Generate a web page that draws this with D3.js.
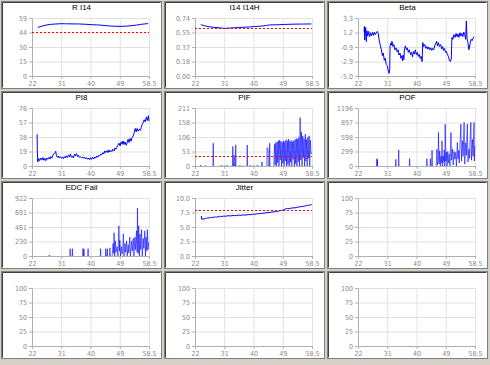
<!DOCTYPE html>
<html lang="en">
<head>
<meta charset="utf-8"/>
<style>
	body {
		margin: 0;
		background-color: #D4D0C8;
	}
	svg { display: block; }
	.tick text {
		font-family: "Liberation Sans Narrow", "DejaVu Sans Condensed", sans-serif;
		font-size: 7px;
		fill: #8a8a8a;
	}
	.title {
		font-family: "Liberation Sans", Arial, sans-serif;
		font-size: 8px;
		fill: #000000;
	}
	.grid line { stroke: #E2E2E2; }
	.grid .domain { display: none; }
	.axis line, .axis .domain { stroke: #B0B0B0; }
</style>
</head>
<body>
<svg id="container" width="490" height="365"></svg>

<script src="https://d3js.org/d3.v7.min.js"></script>
<script>
	// shared x axis
	let xTicks = [22, 31.125, 40.25, 49.375, 58.5]
	let xLabels = ["22", "31", "40", "49", "58.5"]

	let titles = ["R I14", "I14 I14H", "Beta", "PI8", "PIF", "POF", "EDC Fail", "Jitter", "", "", "", ""]
	let yMin = [0, 0, -5, 0, 0, 0, 0, 0, 0, 0, 0, 0]
	let yMax = [59, 0.74, 3.3, 76, 211, 1196, 922, 10, 100, 100, 100, 100]
	let yLabels = [
		["0", "15", "30", "44", "59"],
		["0.00", "0.18", "0.37", "0.55", "0.74"],
		["-5.0", "-2.9", "-0.9", "1.2", "3.3"],
		["0", "19", "38", "57", "76"],
		["0", "53", "106", "158", "211"],
		["0", "299", "598", "897", "1196"],
		["0", "230", "461", "691", "922"],
		["0.0", "2.5", "5.0", "7.5", "10.0"],
		["0", "25", "50", "75", "100"],
		["0", "25", "50", "75", "100"],
		["0", "25", "50", "75", "100"],
		["0", "25", "50", "75", "100"]
	]
	// red dotted limit lines (null = none)
	let limits = [45, 0.61, null, null, 37, null, null, 8, null, null, null, null]

	let rI14X = [23.8,25.0,26.4,27.8,29.4,31.1,32.8,34.8,36.9,38.8,40.6,42.0,43.2,44.8,46.4,48.2,50.1,51.6,53.2,54.6,55.9,57.0,58.2]
	let rI14Y = [49.4,50.6,51.8,52.5,52.9,53.2,53.1,53.0,52.9,52.6,52.2,52.0,51.8,51.3,50.8,50.6,50.5,50.8,51.2,51.8,52.5,52.9,53.3]

	let i14X = [23.8,25.0,26.4,28.0,29.6,31.1,32.7,34.3,35.9,37.5,39.0,40.6,42.0,43.2,44.3,45.3,46.9,48.5,50.0,51.6,53.5,55.9,58.3]
	let i14Y = [0.655,0.64,0.628,0.62,0.615,0.607,0.612,0.615,0.62,0.622,0.625,0.632,0.635,0.638,0.645,0.652,0.653,0.655,0.658,0.66,0.662,0.663,0.664]

	let betaX = [23.9,24.0,24.1,24.4,24.6,24.8,25.0,25.3,25.6,25.9,
		26.2,26.5,26.8,27.1,27.4,27.7,28.0,28.3,28.6,29.0,
		29.3,29.6,29.9,30.2,30.5,30.8,31.1,31.4,31.7,31.9,
		32.0,32.2,32.4,32.6,32.9,33.2,33.5,33.9,34.2,34.5,
		34.8,35.1,35.4,35.7,35.9,36.1,36.3,36.5,36.8,37.1,
		37.4,37.7,38.0,38.4,38.7,39.0,39.3,39.6,39.9,40.2,
		40.5,40.8,41.1,41.4,41.7,42.0,42.2,42.5,42.8,43.2,
		43.5,43.8,44.1,44.4,44.7,45.0,45.3,45.6,45.9,46.2,
		46.5,46.8,47.1,47.4,47.8,48.1,48.4,48.7,49.0,49.3,
		49.6,49.9,50.2,50.5,50.8,51.1,51.3,51.6,51.9,52.3,
		52.6,52.9,53.2,53.5,53.8,54.1,54.4,54.7,55.0,55.3,
		55.6,55.8,56.0,56.3,56.6,57.0,57.3,57.6,57.9,58.2]
	let betaY = [1.33,2.1,0.16,1.94,-0.08,1.47,0.72,1.38,0.63,1.19,
		0.72,1.24,0.82,1.28,0.91,1.19,1.38,1.1,0.16,-0.69,
		-1.25,-2.09,-1.72,-2.75,-2.47,-3.36,-3.5,-4.16,-4.63,-3.97,
		-0.78,-0.31,-0.59,-0.03,-0.78,-0.5,-1.25,-0.97,-1.53,-1.25,
		-2.0,-1.72,-2.47,-2.09,-2.84,-2.0,-2.66,-1.06,-0.69,-1.25,
		-0.97,-1.62,-1.25,-1.95,-1.62,-2.28,-1.48,-1.86,-1.25,-1.95,
		-1.62,-2.19,-1.9,-2.47,-2.19,-2.94,-0.22,-0.78,-0.5,-1.06,
		-0.78,-1.15,-0.87,-1.25,-0.97,-1.34,-1.06,-1.25,-0.69,-0.41,
		-0.03,-0.69,-0.22,-0.78,-0.5,-1.15,-0.78,-1.34,-1.06,-1.62,
		-1.48,-1.95,-2.19,-2.75,-2.94,-2.56,0.53,0.25,0.91,0.53,
		1.1,0.63,1.0,0.53,1.19,0.72,1.1,0.63,1.28,0.91,
		0.25,2.88,0.39,-0.22,-1.25,-0.31,0.25,0.06,0.39,0.63]

	let pi8X = [23.6,23.65,23.8,24.1,24.4,24.7,25.1,25.4,25.7,26.0,
		26.3,26.6,26.9,27.3,27.6,27.9,28.2,28.5,28.8,29.2,
		29.4,29.6,29.9,30.2,30.5,30.8,31.2,31.5,31.8,32.1,
		32.4,32.7,33.0,33.4,33.7,34.0,34.3,34.6,34.9,35.3,
		35.6,35.9,36.2,36.5,36.8,37.1,37.5,37.8,38.1,38.4,
		38.7,39.0,39.4,39.7,40.0,40.3,40.6,40.9,41.3,41.6,
		41.9,42.2,42.5,42.8,43.1,43.5,43.8,44.1,44.4,44.7,
		45.0,45.4,45.7,46.0,46.3,46.6,46.9,47.2,47.6,47.9,
		48.2,48.5,48.8,49.1,49.5,49.8,50.1,50.4,50.7,51.0,
		51.4,51.7,52.0,52.3,52.6,52.9,53.2,53.6,53.9,54.2,
		54.5,54.8,55.1,55.5,55.8,56.1,56.4,56.7,57.0,57.3,
		57.7,58.0,58.3,58.5]
	let pi8Y = [41.7,22,5.3,9.7,7.0,10.5,7.9,11.0,7.5,10.1,
		7.0,10.5,8.8,11.4,9.2,12.3,10.5,14.0,15.8,17.6,
		19.3,14.0,11.4,13.2,10.5,12.3,10.1,11.9,9.7,12.3,
		10.5,13.2,11.0,14.5,11.9,15.8,11.4,13.2,10.5,15.4,
		13.2,16.2,12.3,14.0,11.4,12.3,10.5,11.9,10.1,11.4,
		9.2,11.0,8.8,10.5,8.3,11.0,8.8,11.4,9.2,11.9,
		10.5,13.2,11.4,14.0,13.2,15.8,14.9,17.6,15.8,19.8,
		17.6,20.2,17.6,21.1,18.4,20.2,18.9,22.0,19.8,23.7,
		22.0,24.6,27.2,29.9,26.3,31.6,28.5,32.9,28.1,31.6,
		27.2,30.7,35.1,30.7,36.0,32.5,36.9,39.5,43.9,49.2,
		44.8,49.2,45.7,48.3,46.5,50.5,54.4,57.1,60.6,57.9,
		64.1,59.7,65.9,58.8]

	// spike series: [x, value], a null value breaks the line
	let pifPoints = [
		[23.6,0],[23.8,3],[24.0,0],[24.1,null],[25.0,0],[25.2,2],[25.4,0],[25.5,null],
		[27.6,0],[27.7,83],[27.8,0],[27.9,null],
		[30.0,0],[30.2,3],[30.4,0],[30.5,null],[30.9,0],[31.1,2],[31.3,0],[31.4,null],[31.8,0],[32.0,3],[32.2,0],[32.3,null],
		[33.7,0],[33.8,71],[33.9,0],[34.1,0],[34.2,40],[34.3,0],[34.6,0],[34.7,77],[34.8,0],[34.9,null],
		[35.8,0],[36.0,3],[36.2,0],[36.3,null],[36.8,0],[37.0,2],[37.2,0],[37.3,null],
		[38.2,0],[38.3,76],[38.4,0],[38.5,null],
		[39.1,0],[39.3,3],[39.5,0],[39.6,null],[40.2,0],[40.4,2],[40.6,0],[40.7,null],[41.3,0],[41.5,3],[41.7,0],[41.8,null],
		[42.8,0],[42.9,15],[43.0,0],[43.1,null],
		[44.4,0],[44.5,67],[44.8,61],[44.9,0],[45.2,0],[45.3,83],[45.4,0],[45.5,null],
		[46.6,0],[46.8,79],[47.0,4],[47.2,85],[47.4,0],[47.6,88],[47.8,12],[48.0,92],[48.2,0],[48.4,94],
		[48.6,22],[48.8,90],[49.0,0],[49.2,86],[49.4,10],[49.6,92],[49.8,0],[50.0,88],[50.2,18],[50.4,96],
		[50.6,0],[50.8,92],[51.0,6],[51.2,98],[51.4,0],[51.6,90],[51.8,14],[52.0,94],[52.2,0],[52.4,88],
		[52.6,24],[52.8,92],[53.0,0],[53.2,96],[53.4,8],[53.6,100],[53.8,0],[54.0,98],[54.2,16],[54.4,104],
		[54.6,0],[54.8,176],[55.0,22],[55.2,124],[55.4,0],[55.6,110],[55.8,30],[56.0,100],[56.2,0],[56.4,116],
		[56.6,18],[56.8,96],[57.0,0],[57.2,104],[57.4,28],[57.6,110],[57.8,0],[58.0,94],[58.2,44],[58.4,48]
	]
	let pofPoints = [
		[27.8,0],[27.9,152],[28.0,0],[28.05,130],[28.1,0],[28.2,null],
		[33.7,0],[33.8,138],[33.9,0],[34.0,null],
		[34.6,0],[34.7,332],[34.8,0],[34.9,null],
		[38.0,0],[38.1,152],[38.2,0],[38.3,null],
		[43.4,0],[43.5,152],[43.6,0],[43.7,null],
		[44.5,0],[44.6,152],[44.7,0],[44.8,null],
		[45.0,0],[45.1,325],[45.2,0],[45.3,null],
		[46.4,0],[46.6,345],[46.8,20],[47.0,120],[47.1,691],[47.3,40],[47.5,311],[47.7,0],[47.9,207],[48.1,60],
		[48.2,518],[48.4,0],[48.6,200],[48.8,90],[48.9,332],[49.1,0],[49.2,860],[49.4,100],[49.6,280],[49.8,0],
		[50.0,300],[50.2,60],[50.5,250],[50.7,0],[51.0,691],[51.2,120],[51.5,350],[51.7,20],[52.0,300],[52.2,140],
		[52.5,280],[52.7,0],[53.0,484],[53.2,150],[53.4,320],[53.6,60],[53.8,420],[54.1,864],[54.3,100],[54.6,520],
		[54.8,200],[55.1,898],[55.3,40],[55.6,480],[55.8,220],[56.1,864],[56.3,80],[56.6,350],[56.8,160],[57.0,600],
		[57.2,898],[57.4,120],[57.7,550],[57.9,200],[58.2,898],[58.3,100],[58.4,420]
	]
	let edcPoints = [
		[27.3,0],[27.4,15],[27.5,0],[27.6,null],
		[33.8,0],[33.9,116],[34.0,0],[34.1,null],
		[34.5,0],[34.6,116],[34.7,0],[34.8,null],
		[37.8,0],[37.9,116],[38.0,0],[38.1,0],[38.2,116],[38.3,0],[38.4,null],
		[39.4,0],[39.5,116],[39.6,0],[39.7,null],
		[43.3,0],[43.4,116],[43.5,0],[43.6,null],
		[44.9,0],[45.0,116],[45.1,0],[45.4,0],[45.5,116],[45.6,0],[45.7,null],
		[46.2,0],[46.3,130],[46.4,0],[46.5,null],
		[47.0,0],[47.3,200],[47.5,40],[47.6,370],[47.8,0],[48.0,240],[48.2,60],[48.4,116],[48.6,150],[48.8,0],
		[49.1,480],[49.3,80],[49.4,250],[49.6,0],[49.9,150],[50.1,30],[50.3,116],[50.5,350],[50.7,0],[51.0,200],
		[51.2,60],[51.5,240],[51.7,0],[52.0,180],[52.2,50],[52.5,300],[52.7,0],[53.1,240],[53.3,80],[53.6,280],
		[53.8,0],[54.1,300],[54.3,100],[54.6,400],[54.8,60],[54.9,760],[55.1,40],[55.3,480],[55.5,0],[55.7,350],
		[55.9,100],[56.2,420],[56.4,0],[56.7,280],[56.9,120],[57.2,400],[57.4,0],[57.6,300],[57.8,80],[58.0,420],
		[58.2,100],[58.4,220]
	]

	let jitX = [24.0,24.1,24.4,24.8,25.2,25.6,26.0,26.4,26.8,27.2,
		27.6,28.0,28.4,28.8,29.2,29.6,30.0,30.5,31.0,31.5,
		32.0,32.6,33.2,33.8,34.4,35.0,35.7,36.4,37.0,37.6,
		38.2,38.8,39.4,40.0,40.6,41.2,41.8,42.4,43.0,43.6,
		44.2,44.8,45.4,46.0,46.6,47.2,47.8,48.4,49.0,49.6,
		50.2,50.8,51.4,52.0,52.6,53.2,53.8,54.4,55.0,55.6,
		56.2,56.8,57.4,58.0,58.4]
	let jitY = [6.9,6.3,6.4,6.35,6.5,6.45,6.6,6.55,6.65,6.6,
		6.7,6.65,6.75,6.7,6.8,6.75,6.85,6.8,6.9,6.85,
		6.9,6.95,6.9,7.0,6.95,7.0,7.05,7.0,7.1,7.05,
		7.1,7.15,7.1,7.2,7.2,7.25,7.3,7.3,7.35,7.4,
		7.45,7.5,7.5,7.6,7.6,7.7,7.7,7.8,7.85,7.95,
		8.1,8.2,8.15,8.25,8.3,8.3,8.4,8.45,8.5,8.55,
		8.6,8.7,8.75,8.8,8.9]

	let series = [
		d3.zip(rI14X, rI14Y),
		d3.zip(i14X, i14Y),
		d3.zip(betaX, betaY),
		d3.zip(pi8X, pi8Y),
		pifPoints,
		pofPoints,
		edcPoints,
		d3.zip(jitX, jitY),
		[], [], [], []
	]
	// the spike panels are drawn thinner so dense parts read lighter
	let spiky = [4, 5, 6]

	let svg = d3.select("#container")

	// panel box and plot area inside it
	let panelW = 161, panelH = 88
	let plotL = 31, plotR = 148, plotT = 17, plotB = 75

	titles.forEach((title, i) => {
		let col = i % 3
		let row = Math.floor(i / 3)
		let g = svg.append("g")
			.attr("transform", "translate(" + (1 + col * 163) + "," + (1 + row * 90) + ")")

		// sunken frame
		g.append("rect")
			.attr("x", 0.5).attr("y", 0.5)
			.attr("width", panelW - 1).attr("height", panelH - 1)
			.attr("fill", "#FFFFFF")
			.attr("stroke", "#808080")
		g.append("path")
			.attr("d", "M1.5," + (panelH - 1.5) + "V1.5H" + (panelW - 1.5))
			.attr("fill", "none")
			.attr("stroke", "#404040")

		let x = d3.scaleLinear().domain([22, 58.5]).range([plotL, plotR])
		let y = d3.scaleLinear().domain([yMin[i], yMax[i]]).range([plotB, plotT])
		let yTicks = [0, 1, 2, 3, 4].map(k => yMin[i] + k * (yMax[i] - yMin[i]) / 4)

		// grid
		g.append("g")
			.attr("class", "grid")
			.attr("transform", "translate(0," + plotB + ")")
			.call(d3.axisBottom(x).tickValues(xTicks).tickSize(-(plotB - plotT)).tickFormat(""))
		g.append("g")
			.attr("class", "grid")
			.attr("transform", "translate(" + plotL + ",0)")
			.call(d3.axisLeft(y).tickValues(yTicks).tickSize(-(plotR - plotL)).tickFormat(""))

		// axes
		g.append("g")
			.attr("class", "axis")
			.attr("transform", "translate(0," + plotB + ")")
			.call(d3.axisBottom(x).tickValues(xTicks).tickSize(3).tickSizeOuter(0).tickPadding(2)
				.tickFormat((d, k) => xLabels[k]))
		g.append("g")
			.attr("class", "axis")
			.attr("transform", "translate(" + plotL + ",0)")
			.call(d3.axisLeft(y).tickValues(yTicks).tickSize(3).tickSizeOuter(0).tickPadding(2)
				.tickFormat((d, k) => yLabels[i][k]))

		if (title) {
			g.append("text")
				.attr("class", "title")
				.attr("x", panelW / 2)
				.attr("y", 9)
				.attr("text-anchor", "middle")
				.text(title)
		}

		g.append("clipPath")
			.attr("id", "clip" + i)
			.append("rect")
			.attr("x", plotL).attr("y", plotT - 1)
			.attr("width", plotR - plotL + 1).attr("height", plotB - plotT + 1)

		let line = d3.line()
			.defined(d => d[1] != null)
			.x(d => x(d[0]))
			.y(d => y(d[1]))

		g.append("path")
			.datum(series[i])
			.attr("clip-path", "url(#clip" + i + ")")
			.attr("fill", "none")
			.attr("stroke", "#0000FF")
			.attr("stroke-width", spiky.includes(i) ? 0.6 : 1)
			.attr("d", line)

		if (limits[i] != null) {
			g.append("line")
				.attr("x1", x(22)).attr("x2", x(58.5))
				.attr("y1", Math.round(y(limits[i])) + 0.5)
				.attr("y2", Math.round(y(limits[i])) + 0.5)
				.attr("stroke", "#FF0000")
				.attr("stroke-dasharray", "2,2")
		}
	})
</script>
</body>
</html>
